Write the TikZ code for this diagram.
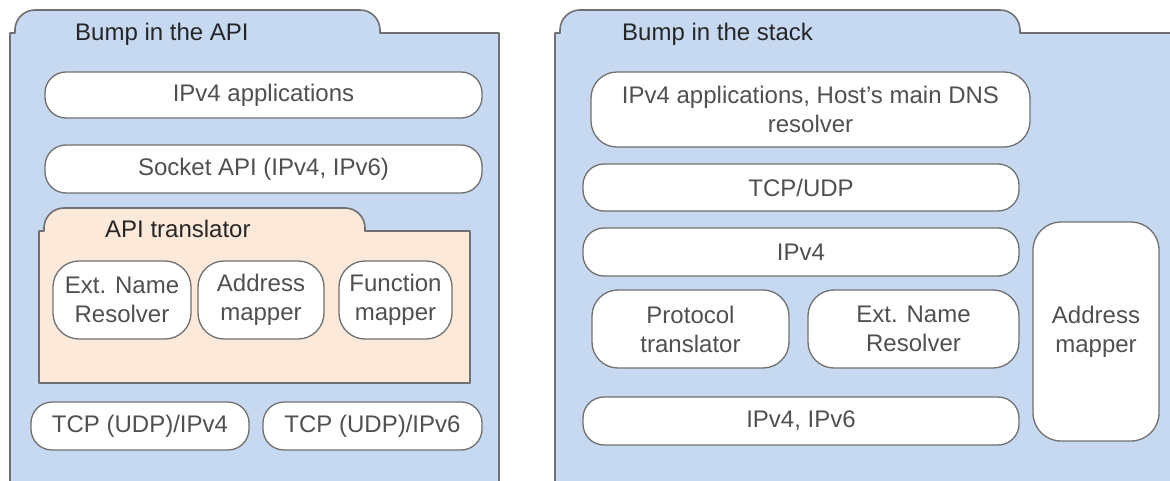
\documentclass[tikz,border=0pt]{standalone}
\usepackage{fontspec}
\setmainfont{Liberation Sans}
\definecolor{paneblue}{HTML}{C6D9F1}
\definecolor{panepeach}{HTML}{FDE9D9}
\definecolor{edgegray}{HTML}{707070}
\definecolor{labelgray}{HTML}{505050}
\tikzset{
  frame/.style={draw=edgegray, line width=1.6pt, line join=round},
  layer/.style={draw=edgegray, line width=1.3pt, fill=white, rectangle,
    rounded corners=21pt, inner sep=0pt, align=center, text=labelgray,
    font=\fontsize{24}{29}\selectfont},
  tall/.style={layer, rounded corners=26pt},
  title/.style={anchor=base west, inner sep=0pt, text=black!85,
    font=\fontsize{24}{29}\selectfont}
}
\begin{document}
\begin{tikzpicture}[x=1pt,y=-1pt]
\useasboundingbox (0,0) rectangle (1170,481);
\clip (0,0) rectangle (1170,481);
\fill[white] (0,0) rectangle (1170,481);

% left panel: bump in the API
\draw[frame, fill=paneblue] (10,520) -- (10,33) -- (15,33) -- (15,30)
  arc[start angle=180, end angle=270, radius=20] -- (360,10)
  arc[start angle=270, end angle=360, radius=20] -- (380,33)
  -- (499,33) -- (499,520) -- cycle;
\node[title] (titleA) at (75,41) {Bump in the API};

\node[layer, minimum width=437, minimum height=46] (appsA) at (263.5,95) {IPv4 applications};
\node[layer, minimum width=437, minimum height=48] (sock) at (263.5,169) {Socket API (IPv4, IPv6)};

% API translator folder
\draw[frame, fill=panepeach] (39,383) -- (39,231) -- (44,231) -- (44,228)
  arc[start angle=180, end angle=270, radius=20] -- (345,208)
  arc[start angle=270, end angle=360, radius=20] -- (365,231)
  -- (470,231) -- (470,383) -- cycle;
\node[title] (titleT) at (105,237) {API translator};

\node[tall, minimum width=138, minimum height=78] (extA) at (122,300) {Ext. Name\\Resolver};
\node[tall, minimum width=126, minimum height=78] (addrA) at (261,300) {Address\\mapper};
\node[tall, minimum width=113, minimum height=78] (func) at (395.5,300) {Function\\mapper};

\node[layer, minimum width=218, minimum height=48] (tcp4) at (140,426) {TCP (UDP)/IPv4};
\node[layer, minimum width=219, minimum height=48] (tcp6) at (372.5,426) {TCP (UDP)/IPv6};

% right panel: bump in the stack
\draw[frame, fill=paneblue] (555,520) -- (555,33) -- (560,33) -- (560,30)
  arc[start angle=180, end angle=270, radius=20] -- (1000,10)
  arc[start angle=270, end angle=360, radius=20] -- (1020,33)
  -- (1190,33) -- (1190,520) -- cycle;
\node[title] (titleB) at (622,41) {Bump in the stack};

\node[tall, minimum width=439, minimum height=75] (appsB) at (810.5,109.5) {IPv4 applications, Host's main DNS\\resolver};
\node[layer, minimum width=436, minimum height=47] (tcpudp) at (801,187.5) {TCP/UDP};
\node[layer, minimum width=436, minimum height=48] (ipv4) at (801,252) {IPv4};
\node[tall, minimum width=197, minimum height=78] (proto) at (690.5,329) {Protocol\\translator};
\node[tall, minimum width=211, minimum height=78] (extB) at (913.5,329) {Ext. Name\\Resolver};
\node[layer, minimum width=436, minimum height=48] (ipv46) at (801,421) {IPv4, IPv6};
\node[layer, rounded corners=28pt, minimum width=126, minimum height=219] (addrB) at (1096,331.5) {Address\\mapper};
\end{tikzpicture}
\end{document}
